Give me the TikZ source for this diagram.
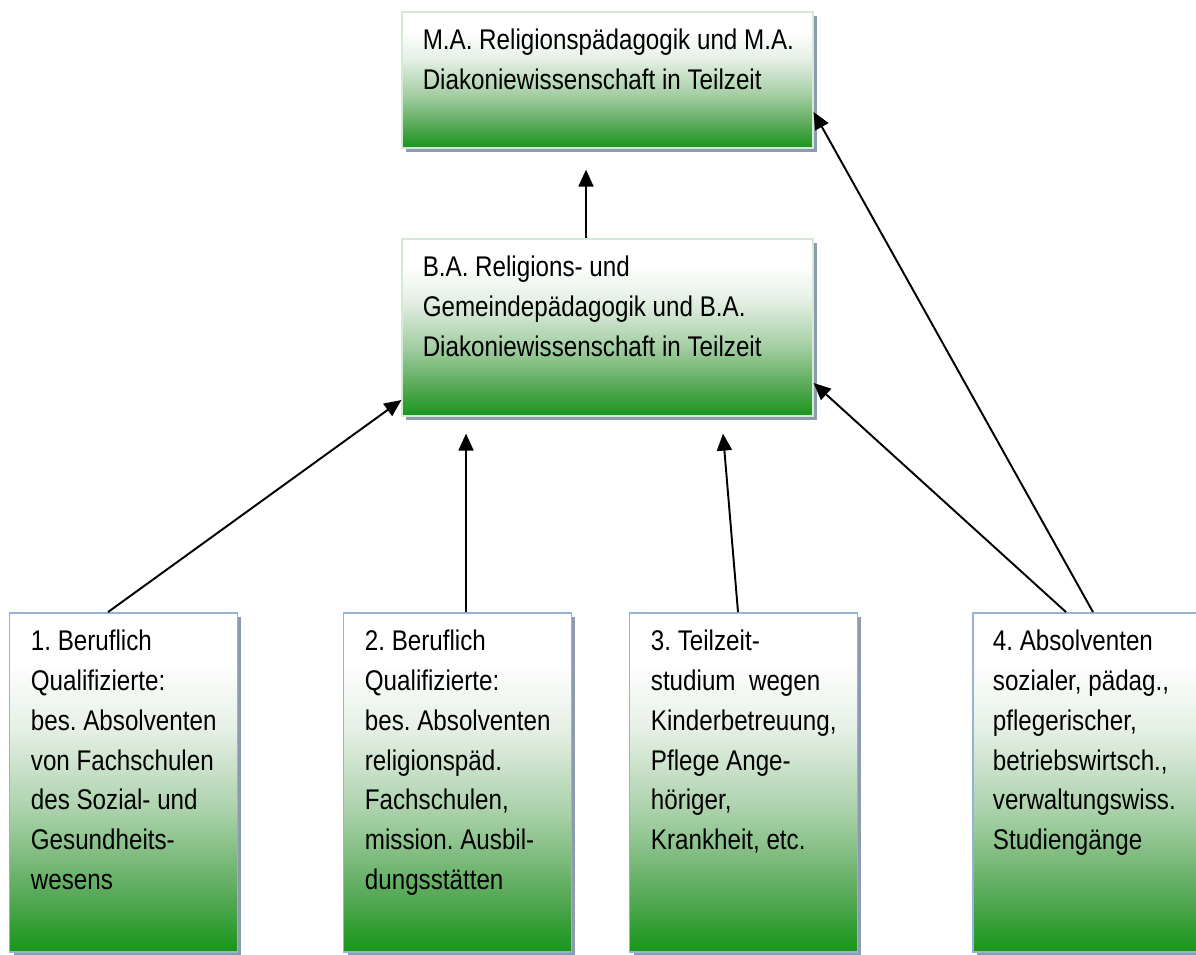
\documentclass[tikz,border=0pt]{standalone}
\usepackage{fontspec}
\setmainfont[FakeStretch=0.85]{Liberation Sans}
\usetikzlibrary{positioning,arrows.meta,calc,shadows}
\definecolor{boxgreen}{HTML}{17961A}
\definecolor{fadeA}{HTML}{55A855}
\definecolor{fadeB}{HTML}{A6CFA6}
\definecolor{fadeC}{HTML}{E6F0E6}
\definecolor{stageline}{HTML}{D3EBD3}
\definecolor{entryline}{HTML}{95B3D7}
\definecolor{shadowgray}{HTML}{8E9BAF}
\pgfdeclareverticalshading{greenfade}{100bp}{color(0bp)=(boxgreen); color(25bp)=(boxgreen); color(33bp)=(fadeA); color(45bp)=(fadeB); color(58bp)=(fadeC); color(68bp)=(white); color(100bp)=(white)}
\frenchspacing

\begin{document}
\begin{tikzpicture}[x=0.02cm,y=-0.02cm,
  stage/.style={rectangle, draw=stageline, line width=0.7pt, shade, shading=greenfade, minimum width=8.22cm, inner sep=0pt,
    drop shadow={shadow xshift=0.08cm, shadow yshift=-0.08cm, fill=shadowgray, opacity=1}},
  entry/.style={stage, draw=entryline, line width=1.1pt, minimum width=4.56cm, minimum height=6.78cm},
  lbl/.style={anchor=north west, inner sep=0pt, align=left, font=\fontsize{16.2}{22.7}\selectfont},
  arr/.style={-{Triangle[length=0.34cm,width=0.3cm]}, line width=1.1pt}]
\clip (0,0) rectangle (1196,954);
\node[stage, minimum height=2.72cm] (ma) at (607.5,80) {};
\node[lbl] (matxt) at ([xshift=0.42cm,yshift=-0.2cm]ma.north west) {\strut M.A. Religionspädagogik und M.A.\\Diakoniewissenschaft in Teilzeit};
\node[stage, minimum height=3.54cm] (ba) at (607.5,327.5) {};
\node[lbl] (batxt) at ([xshift=0.42cm,yshift=-0.2cm]ba.north west) {\strut B.A. Religions- und\\Gemeindepädagogik und B.A.\\Diakoniewissenschaft in Teilzeit};
\node[entry] (q1) at (123.5,782.5) {};
\node[lbl] (q1txt) at ([xshift=0.44cm,yshift=-0.2cm]q1.north west) {\strut 1. Beruflich\\Qualifizierte:\\bes. Absolventen\\von Fachschulen\\des Sozial- und\\Gesundheits-\\wesens};
\node[entry] (q2) at (457.5,782.5) {};
\node[lbl] (q2txt) at ([xshift=0.44cm,yshift=-0.2cm]q2.north west) {\strut 2. Beruflich\\Qualifizierte:\\bes. Absolventen\\religionspäd.\\Fachschulen,\\mission. Ausbil-\\dungsstätten};
\node[entry] (q3) at (743.5,782.5) {};
\node[lbl] (q3txt) at ([xshift=0.44cm,yshift=-0.2cm]q3.north west) {\strut 3. Teilzeit-\\studium \ wegen\\Kinderbetreuung,\\Pflege Ange-\\höriger,\\Krankheit, etc.};
\node[entry] (q4) at (1086.5,782.5) {};
\node[lbl] (q4txt) at ([xshift=0.42cm,yshift=-0.2cm]q4.north west) {\strut 4. Absolventen\\sozialer, pädag.,\\pflegerischer,\\betriebswirtsch.,\\verwaltungswiss.\\Studiengänge};
\coordinate (tipma) at ([xshift=-0.43cm,yshift=-0.42cm]ma.south);
\coordinate (tipq2) at ([xshift=-2.83cm,yshift=-0.34cm]ba.south);
\coordinate (tipq3) at ([xshift=2.31cm,yshift=-0.34cm]ba.south);
\draw[arr] ([xshift=-0.43cm]ba.north) -- (tipma);
\draw[arr] ([xshift=0.13cm]q4.north) -- ([yshift=-0.64cm]ma.east);
\draw[arr] ([xshift=-0.41cm]q4.north) -- ([yshift=-1.11cm]ba.east);
\draw[arr] ([xshift=-0.31cm]q1.north) -- ([yshift=-1.45cm]ba.west);
\draw[arr] ([xshift=0.17cm]q2.north) -- (tipq2);
\draw[arr] ([xshift=-0.11cm]q3.north) -- (tipq3);
\end{tikzpicture}
\end{document}
